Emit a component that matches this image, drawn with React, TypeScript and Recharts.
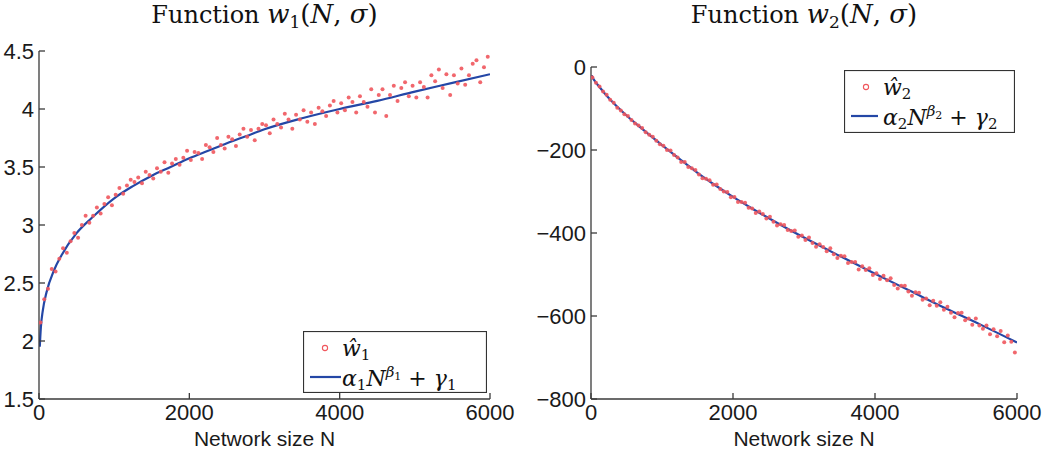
import { ComposedChart, Legend, Line, Scatter, XAxis, YAxis } from "recharts";

// sample sizes of the simulated networks (x of the red dots)
const sampleN = [
  20, 70, 120, 170, 220, 270, 320, 370, 420, 470, 520, 570, 620, 670, 720, 770, 820, 870, 920, 970,
  1020, 1070, 1120, 1170, 1220, 1270, 1320, 1370, 1420, 1470, 1520, 1570, 1620, 1670, 1720, 1770, 1820, 1870, 1920, 1970,
  2020, 2070, 2120, 2170, 2220, 2270, 2320, 2370, 2420, 2470, 2520, 2570, 2620, 2670, 2720, 2770, 2820, 2870, 2920, 2970,
  3020, 3070, 3120, 3170, 3220, 3270, 3320, 3370, 3420, 3470, 3520, 3570, 3620, 3670, 3720, 3770, 3820, 3870, 3920, 3970,
  4020, 4070, 4120, 4170, 4220, 4270, 4320, 4370, 4420, 4470, 4520, 4570, 4620, 4670, 4720, 4770, 4820, 4870, 4920, 4970,
  5020, 5070, 5120, 5170, 5220, 5270, 5320, 5370, 5420, 5470, 5520, 5570, 5620, 5670, 5720, 5770, 5820, 5870, 5920, 5970,
];

const w1Hat = [
  2.16, 2.36, 2.45, 2.62, 2.6, 2.71, 2.8, 2.76, 2.86, 2.93, 2.89, 3.0, 3.08, 3.02, 3.08, 3.15, 3.1, 3.18, 3.24, 3.17,
  3.26, 3.32, 3.27, 3.34, 3.39, 3.37, 3.41, 3.36, 3.46, 3.43, 3.4, 3.49, 3.46, 3.54, 3.45, 3.53, 3.57, 3.52, 3.58, 3.64,
  3.56, 3.63, 3.62, 3.57, 3.69, 3.67, 3.63, 3.75, 3.69, 3.66, 3.76, 3.74, 3.68, 3.78, 3.83, 3.76, 3.82, 3.73, 3.83, 3.87,
  3.86, 3.79, 3.91, 3.87, 3.84, 3.96, 3.91, 3.83, 3.95, 3.91, 3.99, 3.89, 3.97, 3.87, 4.01, 3.98, 3.94, 4.03, 4.07, 3.97,
  4.05, 3.99, 4.1, 4.06, 3.97, 4.11, 4.06, 4.02, 4.17, 3.97, 4.12, 4.17, 3.94, 4.12, 4.2, 4.07, 4.18, 4.23, 4.11, 4.2,
  4.1, 4.23, 4.19, 4.1, 4.29, 4.24, 4.34, 4.18, 4.3, 4.12, 4.29, 4.22, 4.35, 4.21, 4.29, 4.39, 4.42, 4.23, 4.36, 4.45,
];

const w2Hat = [
  -25, -38, -47, -59, -67, -79, -86, -98, -105, -114, -118, -128, -136, -141, -147, -157, -163, -168, -178, -186,
  -190, -200, -201, -212, -218, -229, -229, -241, -244, -248, -259, -268, -269, -273, -284, -283, -294, -300, -301, -314,
  -313, -325, -325, -327, -339, -341, -352, -348, -354, -365, -361, -373, -382, -379, -381, -393, -395, -394, -409, -406,
  -417, -411, -424, -433, -427, -434, -444, -437, -451, -460, -455, -456, -472, -470, -470, -488, -480, -489, -485, -501,
  -497, -511, -503, -514, -509, -525, -534, -527, -527, -541, -551, -543, -544, -561, -558, -574, -563, -575, -567, -585,
  -578, -592, -603, -593, -592, -610, -606, -621, -606, -623, -631, -623, -644, -632, -649, -636, -663, -647, -662, -688,
];

// fitted power laws alpha N^beta + gamma
const fitN = [10, 25, 50, 100, 200, 300, 500, 700, 1000, 1250, 1500, 1750, 2000, 2250, 2500, 2750, 3000, 3500, 4000, 4500, 5000, 5500, 6000];
const w1Fit = [1.95, 2.12, 2.26, 2.42, 2.61, 2.74, 2.93, 3.06, 3.23, 3.335, 3.425, 3.5, 3.575, 3.64, 3.705, 3.765, 3.825, 3.92, 4.0, 4.07, 4.15, 4.225, 4.3];
const w2Fit = [-20, -26, -33, -44, -65, -84, -117, -146, -188, -222, -255, -285, -313, -339, -364, -388, -411, -455, -498, -540, -582, -622, -664];

const xTicks = [0, 2000, 4000, 6000];
const w1Ticks = [1.5, 2, 2.5, 3, 3.5, 4, 4.5];
const w2Ticks = [-800, -600, -400, -200, 0];

const RED = "#f0575d";
const BLUE = "#2447a6";
const AXIS = "#3a3a3a";
const SANS = "'Liberation Sans', Arial, sans-serif";
const SERIF = "'DejaVu Serif', serif";

const tickStyle = { fontSize: 22, fill: "#1a1a1a", fontFamily: SANS };
const axisLabelStyle = { fontSize: 21, fill: "#1a1a1a", fontFamily: SANS, textAnchor: "middle" as const };

type Row = { n: number; v: number };

const zip = (xs: number[], ys: number[]): Row[] => xs.map((n, i) => ({ n, v: ys[i] }));

function LegendBox({ k, w, h, lineEnd }: { k: string; w: number; h: number; lineEnd: number }) {
  return (
    <svg width={w} height={h} style={{ display: "block" }}>
      <rect x={0.5} y={0.5} width={w - 1} height={h - 1} fill="#fff" stroke="#333" strokeWidth={1.2} />
      <circle cx={22} cy={17} r={2.6} fill="none" stroke={RED} strokeWidth={1.1} />
      <text x={39} y={25} fontFamily={SERIF} fontSize={22} fill="#111">
        <tspan fontStyle="italic">ŵ</tspan>
        <tspan fontSize={15} dy={4}>{k}</tspan>
      </text>
      <line x1={7} x2={lineEnd} y1={46} y2={46} stroke={BLUE} strokeWidth={2.2} />
      <text x={39} y={55} fontFamily={SERIF} fontSize={22} fill="#111">
        <tspan fontStyle="italic">α</tspan>
        <tspan fontSize={15} dy={4}>{k}</tspan>
        <tspan fontStyle="italic" dy={-4}>N</tspan>
        <tspan fontStyle="italic" fontSize={15} dy={-9}>β</tspan>
        <tspan fontSize={11} dy={3}>{k}</tspan>
        <tspan dy={6}>{" + "}</tspan>
        <tspan fontStyle="italic">γ</tspan>
        <tspan fontSize={15} dy={4}>{k}</tspan>
      </text>
    </svg>
  );
}

type PanelProps = {
  left: number;
  width: number;
  top: number;
  right: number;
  yWidth: number;
  dots: Row[];
  fit: Row[];
  domain: [number, number];
  yTicks: number[];
  k: string;
  legend: { left: number; top: number; w: number; h: number; lineEnd: number };
};

function Panel(p: PanelProps) {
  const fmt = (v: number) => (v < 0 ? `\u2212${Math.abs(v)}` : String(v));
  return (
    <div style={{ position: "absolute", left: p.left, top: 0 }}>
      <ComposedChart width={p.width} height={450} margin={{ top: p.top, right: p.right, bottom: 1, left: 0 }}>
        <XAxis
          type="number"
          dataKey="n"
          domain={[0, 6000]}
          ticks={xTicks}
          allowDataOverflow
          height={50}
          tick={tickStyle}
          tickSize={-6}
          tickMargin={11}
          axisLine={{ stroke: AXIS, strokeWidth: 1.3 }}
          tickLine={{ stroke: AXIS, strokeWidth: 1.3 }}
          label={{ value: "Network size N", position: "insideBottom", offset: 3.5, style: axisLabelStyle }}
        />
        <YAxis
          type="number"
          domain={p.domain}
          ticks={p.yTicks}
          allowDataOverflow
          width={p.yWidth}
          tick={tickStyle}
          tickFormatter={fmt}
          tickSize={-6}
          tickMargin={11}
          axisLine={{ stroke: AXIS, strokeWidth: 1.3 }}
          tickLine={{ stroke: AXIS, strokeWidth: 1.3 }}
        />
        <Scatter
          data={p.dots}
          dataKey="v"
          isAnimationActive={false}
          shape={(s: any) => <circle cx={s.cx} cy={s.cy} r={2} fill={RED} fillOpacity={0.9} />}
        />
        <Line
          data={p.fit}
          dataKey="v"
          type="monotone"
          stroke={BLUE}
          strokeWidth={2.2}
          dot={false}
          activeDot={false}
          isAnimationActive={false}
        />
        <Legend
          layout="horizontal"
          verticalAlign="middle"
          align="center"
          wrapperStyle={{ left: p.legend.left, top: p.legend.top, width: p.legend.w, height: p.legend.h }}
          content={() => <LegendBox k={p.k} w={p.legend.w} h={p.legend.h} lineEnd={p.legend.lineEnd} />}
        />
      </ComposedChart>
    </div>
  );
}

function Title({ x, k }: { x: number; k: string }) {
  return (
    <text x={x} y={23} textAnchor="middle" fontFamily={SERIF} fontSize={24} fill="#111">
      {"Function "}
      <tspan fontStyle="italic" fontSize={26}>w</tspan>
      <tspan fontSize={17} dy={5}>{k}</tspan>
      <tspan dy={-5} fontSize={26}>(</tspan>
      <tspan fontStyle="italic" fontSize={26}>N</tspan>
      <tspan fontSize={26}>{", "}</tspan>
      <tspan fontStyle="italic" fontSize={26}>σ</tspan>
      <tspan fontSize={26}>)</tspan>
    </text>
  );
}

export default function App() {
  return (
    <div style={{ position: "absolute", left: 0, top: 0, width: 1050, height: 450, background: "#fff" }}>
      <Panel
        left={0}
        width={520}
        top={51}
        right={30}
        yWidth={39}
        dots={zip(sampleN, w1Hat)}
        fit={zip(fitN, w1Fit)}
        domain={[1.5, 4.5]}
        yTicks={w1Ticks}
        k="1"
        legend={{ left: 303, top: 331, w: 184, h: 62, lineEnd: 38 }}
      />
      <Panel
        left={520}
        width={530}
        top={67}
        right={33}
        yWidth={71}
        dots={zip(sampleN, w2Hat)}
        fit={zip(fitN, w2Fit)}
        domain={[-800, 0]}
        yTicks={w2Ticks}
        k="2"
        legend={{ left: 324, top: 70, w: 171, h: 63, lineEnd: 34 }}
      />
      <svg width={1050} height={40} style={{ position: "absolute", left: 0, top: 0 }}>
        <Title x={264.5} k="1" />
        <Title x={804} k="2" />
      </svg>
    </div>
  );
}
